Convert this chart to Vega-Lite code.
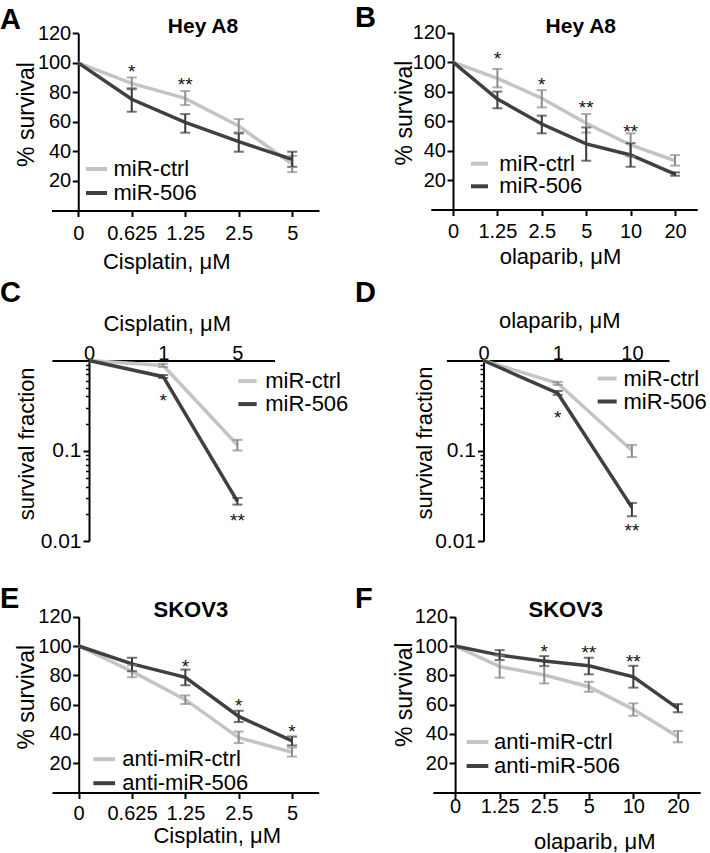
{
  "$schema": "https://vega.github.io/schema/vega-lite/v6.json",
  "padding": 0,
  "background": "white",
  "columns": 2,
  "spacing": 0,
  "bounds": "flush",
  "config": {
    "view": {"stroke": null},
    "font": "Liberation Sans",
    "axis": {"grid": false, "domainColor": "#000", "domainWidth": 2, "tickColor": "#000", "tickWidth": 2, "labelColor": "#000", "titleColor": "#000", "titleFontWeight": "normal", "labelFont": "Liberation Sans", "titleFont": "Liberation Sans", "labelOverlap": false, "labelFlush": false, "labelBound": false},
    "legend": {"labelFont": "Liberation Sans", "labelColor": "#000"},
    "title": {"font": "Liberation Sans", "color": "#000"},
    "text": {"font": "Liberation Sans"}
  },
  "datasets": {
    "A": [
      {"dose": "0", "g": "miR-ctrl", "y": 100},
      {"dose": "0.625", "g": "miR-ctrl", "y": 86.1, "lo": 82.0, "hi": 90.1},
      {"dose": "1.25", "g": "miR-ctrl", "y": 75.9, "lo": 71.4, "hi": 80.9},
      {"dose": "2.5", "g": "miR-ctrl", "y": 57.2, "lo": 52.9, "hi": 61.9},
      {"dose": "5", "g": "miR-ctrl", "y": 31.5, "lo": 26.0, "hi": 37.0},
      {"dose": "0", "g": "miR-506", "y": 100},
      {"dose": "0.625", "g": "miR-506", "y": 75.3, "lo": 66.9, "hi": 82.7},
      {"dose": "1.25", "g": "miR-506", "y": 59.7, "lo": 52.7, "hi": 65.3},
      {"dose": "2.5", "g": "miR-506", "y": 46.6, "lo": 39.8, "hi": 52.2},
      {"dose": "5", "g": "miR-506", "y": 34.6, "lo": 29.6, "hi": 39.8}
    ],
    "A_s": [
      {"dose": "0.625", "y": 90, "s": "*"},
      {"dose": "1.25", "y": 80.9, "s": "**"}
    ],
    "B": [
      {"dose": "0", "g": "miR-ctrl", "y": 100},
      {"dose": "1.25", "g": "miR-ctrl", "y": 89.0, "lo": 82.9, "hi": 95.4},
      {"dose": "2.5", "g": "miR-ctrl", "y": 75.5, "lo": 69.3, "hi": 81.0},
      {"dose": "5", "g": "miR-ctrl", "y": 58.5, "lo": 52.2, "hi": 64.8},
      {"dose": "10", "g": "miR-ctrl", "y": 43.8, "lo": 35.9, "hi": 51.7},
      {"dose": "20", "g": "miR-ctrl", "y": 33.1, "lo": 29.8, "hi": 36.9},
      {"dose": "0", "g": "miR-506", "y": 100},
      {"dose": "1.25", "g": "miR-506", "y": 75.0, "lo": 68.7, "hi": 80.0},
      {"dose": "2.5", "g": "miR-506", "y": 58.0, "lo": 51.7, "hi": 63.7},
      {"dose": "5", "g": "miR-506", "y": 44.5, "lo": 33.1, "hi": 55.7},
      {"dose": "10", "g": "miR-506", "y": 37.0, "lo": 29.0, "hi": 45.0},
      {"dose": "20", "g": "miR-506", "y": 24.0, "lo": 22.9, "hi": 25.2}
    ],
    "B_s": [
      {"dose": "1.25", "y": 98.1, "s": "*"},
      {"dose": "2.5", "y": 80.4, "s": "*"},
      {"dose": "5", "y": 65, "s": "**"},
      {"dose": "10", "y": 48.7, "s": "**"}
    ],
    "C": [
      {"dose": "0", "g": "miR-ctrl", "y": 1},
      {"dose": "1", "g": "miR-ctrl", "y": 0.88, "lo": 0.847, "hi": 0.92},
      {"dose": "5", "g": "miR-ctrl", "y": 0.116, "lo": 0.1007, "hi": 0.132},
      {"dose": "0", "g": "miR-506", "y": 1},
      {"dose": "1", "g": "miR-506", "y": 0.662, "lo": 0.64, "hi": 0.69},
      {"dose": "5", "g": "miR-506", "y": 0.0275, "lo": 0.0253, "hi": 0.030}
    ],
    "C_s": [
      {"dose": "1", "y": 0.308, "s": "*"},
      {"dose": "5", "y": 0.01435, "s": "**"}
    ],
    "D": [
      {"dose": "0", "g": "miR-ctrl", "y": 1},
      {"dose": "1", "g": "miR-ctrl", "y": 0.56, "lo": 0.536, "hi": 0.58},
      {"dose": "10", "g": "miR-ctrl", "y": 0.1007, "lo": 0.085, "hi": 0.116},
      {"dose": "0", "g": "miR-506", "y": 1},
      {"dose": "1", "g": "miR-506", "y": 0.434, "lo": 0.416, "hi": 0.46},
      {"dose": "10", "g": "miR-506", "y": 0.0236, "lo": 0.0188, "hi": 0.0264}
    ],
    "D_s": [
      {"dose": "1", "y": 0.197, "s": "*"},
      {"dose": "10", "y": 0.0112, "s": "**"}
    ],
    "E": [
      {"dose": "0", "g": "anti-miR-ctrl", "y": 100},
      {"dose": "0.625", "g": "anti-miR-ctrl", "y": 82.7, "lo": 78.6, "hi": 86.8},
      {"dose": "1.25", "g": "anti-miR-ctrl", "y": 63.4, "lo": 60.4, "hi": 66.3},
      {"dose": "2.5", "g": "anti-miR-ctrl", "y": 37.5, "lo": 33.7, "hi": 41.6},
      {"dose": "5", "g": "anti-miR-ctrl", "y": 27.5, "lo": 24.5, "hi": 30.7},
      {"dose": "0", "g": "anti-miR-506", "y": 100},
      {"dose": "0.625", "g": "anti-miR-506", "y": 87.8, "lo": 82.7, "hi": 91.9},
      {"dose": "1.25", "g": "anti-miR-506", "y": 78.6, "lo": 73.2, "hi": 83.9},
      {"dose": "2.5", "g": "anti-miR-506", "y": 51.9, "lo": 48.1, "hi": 55.8},
      {"dose": "5", "g": "anti-miR-506", "y": 35.3, "lo": 32.1, "hi": 38.2}
    ],
    "E_s": [
      {"dose": "1.25", "y": 81.6, "s": "*"},
      {"dose": "2.5", "y": 54.7, "s": "*"},
      {"dose": "5", "y": 37.5, "s": "*"}
    ],
    "F": [
      {"dose": "0", "g": "anti-miR-ctrl", "y": 100},
      {"dose": "1.25", "g": "anti-miR-ctrl", "y": 85.9, "lo": 78.4, "hi": 93.4},
      {"dose": "2.5", "g": "anti-miR-ctrl", "y": 80.2, "lo": 74.5, "hi": 86.5},
      {"dose": "5", "g": "anti-miR-ctrl", "y": 72.2, "lo": 68.8, "hi": 75.6},
      {"dose": "10", "g": "anti-miR-ctrl", "y": 56.8, "lo": 52.4, "hi": 60.9},
      {"dose": "20", "g": "anti-miR-ctrl", "y": 38.1, "lo": 34.3, "hi": 42.0},
      {"dose": "0", "g": "anti-miR-506", "y": 100},
      {"dose": "1.25", "g": "anti-miR-506", "y": 93.8, "lo": 90.4, "hi": 97.2},
      {"dose": "2.5", "g": "anti-miR-506", "y": 89.7, "lo": 86.3, "hi": 93.1},
      {"dose": "5", "g": "anti-miR-506", "y": 86.5, "lo": 80.7, "hi": 92.0},
      {"dose": "10", "g": "anti-miR-506", "y": 79.0, "lo": 71.6, "hi": 86.5},
      {"dose": "20", "g": "anti-miR-506", "y": 57.5, "lo": 54.8, "hi": 60.4}
    ],
    "F_s": [
      {"dose": "2.5", "y": 92, "s": "*"},
      {"dose": "5", "y": 90.9, "s": "**"},
      {"dose": "10", "y": 85.2, "s": "**"}
    ]
  },
  "concat": [
    {
      "width": 355, "height": 284,
      "title": {"text": "A", "anchor": "start", "frame": "group", "fontSize": 29, "fontWeight": "bold", "offset": -35.3},
      "layer": [
        {
          "data": {"name": "A"},
          "mark": {"type": "line", "strokeWidth": 3.5},
          "encoding": {
            "x": {"field": "dose", "type": "ordinal", "sort": ["0", "0.625", "1.25", "2.5", "5"], "scale": {"type": "point", "domain": ["0", "0.625", "1.25", "2.5", "5"], "range": [51.5, 319], "padding": 0.5},
              "axis": {"orient": "bottom", "offset": -73.5, "labelAngle": 0, "labelFontSize": 20, "labelBaseline": "alphabetic", "labelPadding": 22.8, "tickSize": 6, "title": "Cisplatin, μM", "titleFontSize": 22, "titleX": 166.2, "titleY": 57.8, "titleBaseline": "alphabetic", "titleAlign": "center", "titleAngle": 0}},
            "y": {"field": "y", "type": "quantitative", "scale": {"domain": [0, 120], "range": [210.5, 33.3], "nice": false},
              "axis": {"orient": "left", "offset": -78.25, "values": [20, 40, 60, 80, 100, 120], "labelFontSize": 20, "labelPadding": 1.5, "tickSize": 6, "title": "% survival", "titleFontSize": 23, "titleX": -44.95, "titleY": 114, "titleAngle": 270, "titleBaseline": "alphabetic", "titleAlign": "center"}},
            "color": {"field": "g", "type": "nominal", "scale": {"domain": ["miR-ctrl", "miR-506"], "range": ["#c4c4c4", "#404040"]},
              "legend": {"orient": "none", "legendX": 84, "legendY": 156.5, "title": null, "padding": 0, "symbolType": "stroke", "symbolSize": 441, "symbolStrokeWidth": 4, "labelFontSize": 22, "labelOffset": 4.5, "rowPadding": 0}}
          }
        },
        {
          "data": {"name": "A"},
          "transform": [{"filter": "datum.lo != null"}],
          "mark": {"type": "errorbar", "ticks": true, "size": 10, "thickness": 2},
          "encoding": {
            "x": {"field": "dose", "type": "ordinal", "scale": {"type": "point", "domain": ["0", "0.625", "1.25", "2.5", "5"], "range": [51.5, 319], "padding": 0.5}},
            "y": {"field": "lo", "type": "quantitative", "scale": {"domain": [0, 120], "range": [210.5, 33.3], "nice": false}, "title": "% survival"},
            "y2": {"field": "hi"},
            "color": {"field": "g", "type": "nominal", "scale": {"domain": ["miR-ctrl", "miR-506"], "range": ["#8c8c8c", "#3a3a3a"]}, "legend": null}
          }
        },
        {
          "data": {"name": "A_s"},
          "mark": {"type": "text", "fontSize": 19, "baseline": "alphabetic", "align": "center", "color": "#111"},
          "encoding": {
            "x": {"field": "dose", "type": "ordinal", "scale": {"type": "point", "domain": ["0", "0.625", "1.25", "2.5", "5"], "range": [51.5, 319], "padding": 0.5}},
            "y": {"field": "y", "type": "quantitative", "scale": {"domain": [0, 120], "range": [210.5, 33.3], "nice": false}, "title": "% survival"},
            "text": {"field": "s"}
          }
        },
        {
          "data": {"values": [{"t": "Hey A8"}]},
          "mark": {"type": "text", "fontSize": 21, "fontWeight": "bold", "baseline": "alphabetic", "align": "center", "dx": 17.75, "color": "#000"},
          "encoding": {
            "x": {"datum": "1.25", "type": "ordinal"},
            "y": {"datum": 120, "type": "quantitative"},
            "text": {"field": "t"}
          }
        }
      ],
      "resolve": {"scale": {"color": "independent"}}
    },
    {
      "width": 355, "height": 284,
      "title": {"text": "B", "anchor": "start", "frame": "group", "fontSize": 29, "fontWeight": "bold", "offset": -33.3},
      "layer": [
        {
          "data": {"name": "B"},
          "mark": {"type": "line", "strokeWidth": 3.5},
          "encoding": {
            "x": {"field": "dose", "type": "ordinal", "sort": ["0", "1.25", "2.5", "5", "10", "20"], "scale": {"type": "point", "domain": ["0", "1.25", "2.5", "5", "10", "20"], "range": [75.8, 342.2], "padding": 0.5},
              "axis": {"orient": "bottom", "offset": -74.5, "labelAngle": 0, "labelFontSize": 20, "labelBaseline": "alphabetic", "labelPadding": 21.8, "tickSize": 6, "title": "olaparib, μM", "titleFontSize": 22, "titleX": 205, "titleY": 53.8, "titleBaseline": "alphabetic", "titleAlign": "center", "titleAngle": 0}},
            "y": {"field": "y", "type": "quantitative", "scale": {"domain": [0, 120], "range": [209.5, 32.7], "nice": false},
              "axis": {"orient": "left", "offset": -98, "values": [20, 40, 60, 80, 100, 120], "labelFontSize": 20, "labelPadding": 1.5, "tickSize": 6, "title": "% survival", "titleFontSize": 23, "titleX": -41.3, "titleY": 112.5, "titleAngle": 270, "titleBaseline": "alphabetic", "titleAlign": "center"}},
            "color": {"field": "g", "type": "nominal", "scale": {"domain": ["miR-ctrl", "miR-506"], "range": ["#c4c4c4", "#404040"]},
              "legend": {"orient": "none", "legendX": 113.5, "legendY": 152.7, "title": null, "padding": 0, "symbolType": "stroke", "symbolSize": 289, "symbolStrokeWidth": 4, "labelFontSize": 22, "labelOffset": 8.7, "rowPadding": 0.6}}
          }
        },
        {
          "data": {"name": "B"},
          "transform": [{"filter": "datum.lo != null"}],
          "mark": {"type": "errorbar", "ticks": true, "size": 10, "thickness": 2},
          "encoding": {
            "x": {"field": "dose", "type": "ordinal", "scale": {"type": "point", "domain": ["0", "1.25", "2.5", "5", "10", "20"], "range": [75.8, 342.2], "padding": 0.5}},
            "y": {"field": "lo", "type": "quantitative", "scale": {"domain": [0, 120], "range": [209.5, 32.7], "nice": false}, "title": "% survival"},
            "y2": {"field": "hi"},
            "color": {"field": "g", "type": "nominal", "scale": {"domain": ["miR-ctrl", "miR-506"], "range": ["#8c8c8c", "#3a3a3a"]}, "legend": null}
          }
        },
        {
          "data": {"name": "B_s"},
          "mark": {"type": "text", "fontSize": 19, "baseline": "alphabetic", "align": "center", "color": "#111"},
          "encoding": {
            "x": {"field": "dose", "type": "ordinal", "scale": {"type": "point", "domain": ["0", "1.25", "2.5", "5", "10", "20"], "range": [75.8, 342.2], "padding": 0.5}},
            "y": {"field": "y", "type": "quantitative", "scale": {"domain": [0, 120], "range": [209.5, 32.7], "nice": false}, "title": "% survival"},
            "text": {"field": "s"}
          }
        },
        {
          "data": {"values": [{"t": "Hey A8"}]},
          "mark": {"type": "text", "fontSize": 21, "fontWeight": "bold", "baseline": "alphabetic", "align": "center", "dx": -5.4, "color": "#000"},
          "encoding": {
            "x": {"datum": "5", "type": "ordinal"},
            "y": {"datum": 120, "type": "quantitative"},
            "text": {"field": "t"}
          }
        }
      ],
      "resolve": {"scale": {"color": "independent"}}
    },
    {
      "width": 355, "height": 284,
      "title": {"text": "C", "anchor": "start", "frame": "group", "fontSize": 29, "fontWeight": "bold", "offset": -23.7},
      "layer": [
        {
          "data": {"name": "C"},
          "mark": {"type": "line", "strokeWidth": 3.5},
          "encoding": {
            "x": {"field": "dose", "type": "ordinal", "sort": ["0", "1", "5"], "scale": {"type": "point", "domain": ["0", "1", "5"], "range": [51.9, 274.5], "padding": 0.5},
              "axis": {"orient": "top", "offset": -76.5, "ticks": false, "tickSize": 0, "labelAngle": 0, "labelFontSize": 20, "labelBaseline": "alphabetic", "labelPadding": 1.5, "title": "Cisplatin, μM", "titleFontSize": 22, "titleX": 166.7, "titleY": -30.5, "titleBaseline": "alphabetic", "titleAlign": "center", "titleAngle": 0}},
            "y": {"field": "y", "type": "quantitative", "scale": {"type": "log", "domain": [0.01, 1], "range": [257, 76.5], "nice": false},
              "axis": {"orient": "left", "offset": -89, "values": [0.01, 0.1], "format": "~g", "labelFontSize": 21, "labelPadding": 2, "tickSize": 6, "title": "survival fraction", "titleFontSize": 22, "titleX": -55.7, "titleY": 159.3, "titleAngle": 270, "titleBaseline": "alphabetic", "titleAlign": "center"}},
            "color": {"field": "g", "type": "nominal", "scale": {"domain": ["miR-ctrl", "miR-506"], "range": ["#c4c4c4", "#404040"]},
              "legend": {"orient": "none", "legendX": 236, "legendY": 85.6, "title": null, "padding": 0, "symbolType": "stroke", "symbolSize": 335, "symbolStrokeWidth": 4, "labelFontSize": 22, "labelOffset": 6.2, "rowPadding": 0}}
          }
        },
        {
          "data": {"name": "C"},
          "transform": [{"filter": "datum.lo != null"}],
          "mark": {"type": "errorbar", "ticks": true, "size": 10, "thickness": 2},
          "encoding": {
            "x": {"field": "dose", "type": "ordinal", "scale": {"type": "point", "domain": ["0", "1", "5"], "range": [51.9, 274.5], "padding": 0.5}},
            "y": {"field": "lo", "type": "quantitative", "scale": {"type": "log", "domain": [0.01, 1], "range": [257, 76.5], "nice": false}, "axis": null},
            "y2": {"field": "hi"},
            "color": {"field": "g", "type": "nominal", "scale": {"domain": ["miR-ctrl", "miR-506"], "range": ["#8c8c8c", "#3a3a3a"]}, "legend": null}
          }
        },
        {
          "data": {"name": "C_s"},
          "mark": {"type": "text", "fontSize": 19, "baseline": "alphabetic", "align": "center", "color": "#111"},
          "encoding": {
            "x": {"field": "dose", "type": "ordinal", "scale": {"type": "point", "domain": ["0", "1", "5"], "range": [51.9, 274.5], "padding": 0.5}},
            "y": {"field": "y", "type": "quantitative", "scale": {"type": "log", "domain": [0.01, 1], "range": [257, 76.5], "nice": false},
              "axis": {"orient": "left", "offset": -89, "values": [0.02, 0.03, 0.04, 0.05, 0.06, 0.07, 0.08, 0.09, 0.2, 0.3, 0.4, 0.5, 0.6, 0.7, 0.8, 0.9], "labels": false, "domain": false, "ticks": true, "tickSize": 3.5, "tickWidth": 1.5, "title": null}},
            "text": {"field": "s"}
          }
        }
      ],
      "resolve": {"scale": {"color": "independent"}, "axis": {"y": "independent"}}
    },
    {
      "width": 355, "height": 284,
      "title": {"text": "D", "anchor": "start", "frame": "group", "fontSize": 29, "fontWeight": "bold", "offset": -24.3},
      "layer": [
        {
          "data": {"name": "D"},
          "mark": {"type": "line", "strokeWidth": 3.5},
          "encoding": {
            "x": {"field": "dose", "type": "ordinal", "sort": ["0", "1", "10"], "scale": {"type": "point", "domain": ["0", "1", "10"], "range": [91.4, 314], "padding": 0.5},
              "axis": {"orient": "top", "offset": -76.5, "ticks": false, "tickSize": 0, "labelAngle": 0, "labelFontSize": 20, "labelBaseline": "alphabetic", "labelPadding": 1.5, "title": "olaparib, μM", "titleFontSize": 22, "titleX": 204.2, "titleY": -32.8, "titleBaseline": "alphabetic", "titleAlign": "center", "titleAngle": 0}},
            "y": {"field": "y", "type": "quantitative", "scale": {"type": "log", "domain": [0.01, 1], "range": [257, 76.5], "nice": false},
              "axis": {"orient": "left", "offset": -128.5, "values": [0.01, 0.1], "format": "~g", "labelFontSize": 21, "labelPadding": 2, "tickSize": 6, "title": "survival fraction", "titleFontSize": 22, "titleX": -51.8, "titleY": 158.5, "titleAngle": 270, "titleBaseline": "alphabetic", "titleAlign": "center"}},
            "color": {"field": "g", "type": "nominal", "scale": {"domain": ["miR-ctrl", "miR-506"], "range": ["#c4c4c4", "#404040"]},
              "legend": {"orient": "none", "legendX": 240.7, "legendY": 83, "title": null, "padding": 0, "symbolType": "stroke", "symbolSize": 361, "symbolStrokeWidth": 4, "labelFontSize": 22, "labelOffset": 4.8, "rowPadding": 0}}
          }
        },
        {
          "data": {"name": "D"},
          "transform": [{"filter": "datum.lo != null"}],
          "mark": {"type": "errorbar", "ticks": true, "size": 10, "thickness": 2},
          "encoding": {
            "x": {"field": "dose", "type": "ordinal", "scale": {"type": "point", "domain": ["0", "1", "10"], "range": [91.4, 314], "padding": 0.5}},
            "y": {"field": "lo", "type": "quantitative", "scale": {"type": "log", "domain": [0.01, 1], "range": [257, 76.5], "nice": false}, "axis": null},
            "y2": {"field": "hi"},
            "color": {"field": "g", "type": "nominal", "scale": {"domain": ["miR-ctrl", "miR-506"], "range": ["#8c8c8c", "#3a3a3a"]}, "legend": null}
          }
        },
        {
          "data": {"name": "D_s"},
          "mark": {"type": "text", "fontSize": 19, "baseline": "alphabetic", "align": "center", "color": "#111"},
          "encoding": {
            "x": {"field": "dose", "type": "ordinal", "scale": {"type": "point", "domain": ["0", "1", "10"], "range": [91.4, 314], "padding": 0.5}},
            "y": {"field": "y", "type": "quantitative", "scale": {"type": "log", "domain": [0.01, 1], "range": [257, 76.5], "nice": false},
              "axis": {"orient": "left", "offset": -128.5, "values": [0.02, 0.03, 0.04, 0.05, 0.06, 0.07, 0.08, 0.09, 0.2, 0.3, 0.4, 0.5, 0.6, 0.7, 0.8, 0.9], "labels": false, "domain": false, "ticks": true, "tickSize": 3.5, "tickWidth": 1.5, "title": null}},
            "text": {"field": "s"}
          }
        }
      ],
      "resolve": {"scale": {"color": "independent"}, "axis": {"y": "independent"}}
    },
    {
      "width": 355, "height": 284,
      "title": {"text": "E", "anchor": "start", "frame": "group", "fontSize": 29, "fontWeight": "bold", "offset": -46.3},
      "layer": [
        {
          "data": {"name": "E"},
          "mark": {"type": "line", "strokeWidth": 3.5},
          "encoding": {
            "x": {"field": "dose", "type": "ordinal", "sort": ["0", "0.625", "1.25", "2.5", "5"], "scale": {"type": "point", "domain": ["0", "0.625", "1.25", "2.5", "5"], "range": [52, 318.7], "padding": 0.5},
              "axis": {"orient": "bottom", "offset": -59.5, "labelAngle": 0, "labelFontSize": 20, "labelBaseline": "alphabetic", "labelPadding": 20.8, "tickSize": 6, "title": "Cisplatin, μM", "titleFontSize": 22, "titleX": 216.7, "titleY": 49.8, "titleBaseline": "alphabetic", "titleAlign": "center", "titleAngle": 0}},
            "y": {"field": "y", "type": "quantitative", "scale": {"domain": [0, 120], "range": [224.5, 48.7], "nice": false},
              "axis": {"orient": "left", "offset": -78.7, "values": [20, 40, 60, 80, 100, 120], "labelFontSize": 20, "labelPadding": 1.5, "tickSize": 6, "title": "% survival", "titleFontSize": 23, "titleX": -45.4, "titleY": 128.7, "titleAngle": 270, "titleBaseline": "alphabetic", "titleAlign": "center"}},
            "color": {"field": "g", "type": "nominal", "scale": {"domain": ["anti-miR-ctrl", "anti-miR-506"], "range": ["#c4c4c4", "#404040"]},
              "legend": {"orient": "none", "legendX": 91.2, "legendY": 178.2, "title": null, "padding": 0, "symbolType": "stroke", "symbolSize": 471, "symbolStrokeWidth": 4, "labelFontSize": 22, "labelOffset": 5.1, "rowPadding": 0}}
          }
        },
        {
          "data": {"name": "E"},
          "transform": [{"filter": "datum.lo != null"}],
          "mark": {"type": "errorbar", "ticks": true, "size": 10, "thickness": 2},
          "encoding": {
            "x": {"field": "dose", "type": "ordinal", "scale": {"type": "point", "domain": ["0", "0.625", "1.25", "2.5", "5"], "range": [52, 318.7], "padding": 0.5}},
            "y": {"field": "lo", "type": "quantitative", "scale": {"domain": [0, 120], "range": [224.5, 48.7], "nice": false}, "title": "% survival"},
            "y2": {"field": "hi"},
            "color": {"field": "g", "type": "nominal", "scale": {"domain": ["anti-miR-ctrl", "anti-miR-506"], "range": ["#8c8c8c", "#3a3a3a"]}, "legend": null}
          }
        },
        {
          "data": {"name": "E_s"},
          "mark": {"type": "text", "fontSize": 19, "baseline": "alphabetic", "align": "center", "color": "#111"},
          "encoding": {
            "x": {"field": "dose", "type": "ordinal", "scale": {"type": "point", "domain": ["0", "0.625", "1.25", "2.5", "5"], "range": [52, 318.7], "padding": 0.5}},
            "y": {"field": "y", "type": "quantitative", "scale": {"domain": [0, 120], "range": [224.5, 48.7], "nice": false}, "title": "% survival"},
            "text": {"field": "s"}
          }
        },
        {
          "data": {"values": [{"t": "SKOV3"}]},
          "mark": {"type": "text", "fontSize": 22, "fontWeight": "bold", "baseline": "alphabetic", "align": "center", "dx": 5.5, "color": "#000"},
          "encoding": {
            "x": {"datum": "1.25", "type": "ordinal"},
            "y": {"datum": 120, "type": "quantitative"},
            "text": {"field": "t"}
          }
        }
      ],
      "resolve": {"scale": {"color": "independent"}}
    },
    {
      "width": 355, "height": 284,
      "title": {"text": "F", "anchor": "start", "frame": "group", "fontSize": 29, "fontWeight": "bold", "offset": -46.3},
      "layer": [
        {
          "data": {"name": "F"},
          "mark": {"type": "line", "strokeWidth": 3.5},
          "encoding": {
            "x": {"field": "dose", "type": "ordinal", "sort": ["0", "1.25", "2.5", "5", "10", "20"], "scale": {"type": "point", "domain": ["0", "1.25", "2.5", "5", "10", "20"], "range": [77.8, 345.2], "padding": 0.5},
              "axis": {"orient": "bottom", "offset": -59.4, "labelAngle": 0, "labelFontSize": 20, "labelBaseline": "alphabetic", "labelPadding": 13.7, "tickSize": 6, "title": "olaparib, μM", "titleFontSize": 22, "titleX": 239.2, "titleY": 55.4, "titleBaseline": "alphabetic", "titleAlign": "center", "titleAngle": 0}},
            "y": {"field": "y", "type": "quantitative", "scale": {"domain": [0, 120], "range": [224.6, 48.7], "nice": false},
              "axis": {"orient": "left", "offset": -100.1, "values": [20, 40, 60, 80, 100, 120], "labelFontSize": 20, "labelPadding": 1.5, "tickSize": 6, "title": "% survival", "titleFontSize": 23, "titleX": -43.4, "titleY": 126.2, "titleAngle": 270, "titleBaseline": "alphabetic", "titleAlign": "center"}},
            "color": {"field": "g", "type": "nominal", "scale": {"domain": ["anti-miR-ctrl", "anti-miR-506"], "range": ["#c4c4c4", "#404040"]},
              "legend": {"orient": "none", "legendX": 109.5, "legendY": 161, "title": null, "padding": 0, "symbolType": "stroke", "symbolSize": 471, "symbolStrokeWidth": 4, "labelFontSize": 22, "labelOffset": 3.5, "rowPadding": 0}}
          }
        },
        {
          "data": {"name": "F"},
          "transform": [{"filter": "datum.lo != null"}],
          "mark": {"type": "errorbar", "ticks": true, "size": 10, "thickness": 2},
          "encoding": {
            "x": {"field": "dose", "type": "ordinal", "scale": {"type": "point", "domain": ["0", "1.25", "2.5", "5", "10", "20"], "range": [77.8, 345.2], "padding": 0.5}},
            "y": {"field": "lo", "type": "quantitative", "scale": {"domain": [0, 120], "range": [224.6, 48.7], "nice": false}, "title": "% survival"},
            "y2": {"field": "hi"},
            "color": {"field": "g", "type": "nominal", "scale": {"domain": ["anti-miR-ctrl", "anti-miR-506"], "range": ["#8c8c8c", "#3a3a3a"]}, "legend": null}
          }
        },
        {
          "data": {"name": "F_s"},
          "mark": {"type": "text", "fontSize": 19, "baseline": "alphabetic", "align": "center", "color": "#111"},
          "encoding": {
            "x": {"field": "dose", "type": "ordinal", "scale": {"type": "point", "domain": ["0", "1.25", "2.5", "5", "10", "20"], "range": [77.8, 345.2], "padding": 0.5}},
            "y": {"field": "y", "type": "quantitative", "scale": {"domain": [0, 120], "range": [224.6, 48.7], "nice": false}, "title": "% survival"},
            "text": {"field": "s"}
          }
        },
        {
          "data": {"values": [{"t": "SKOV3"}]},
          "mark": {"type": "text", "fontSize": 22, "fontWeight": "bold", "baseline": "alphabetic", "align": "center", "dx": 21.6, "color": "#000"},
          "encoding": {
            "x": {"datum": "2.5", "type": "ordinal"},
            "y": {"datum": 120, "type": "quantitative"},
            "text": {"field": "t"}
          }
        }
      ],
      "resolve": {"scale": {"color": "independent"}}
    }
  ],
  "resolve": {"scale": {"color": "independent"}, "legend": {"color": "independent"}}
}
